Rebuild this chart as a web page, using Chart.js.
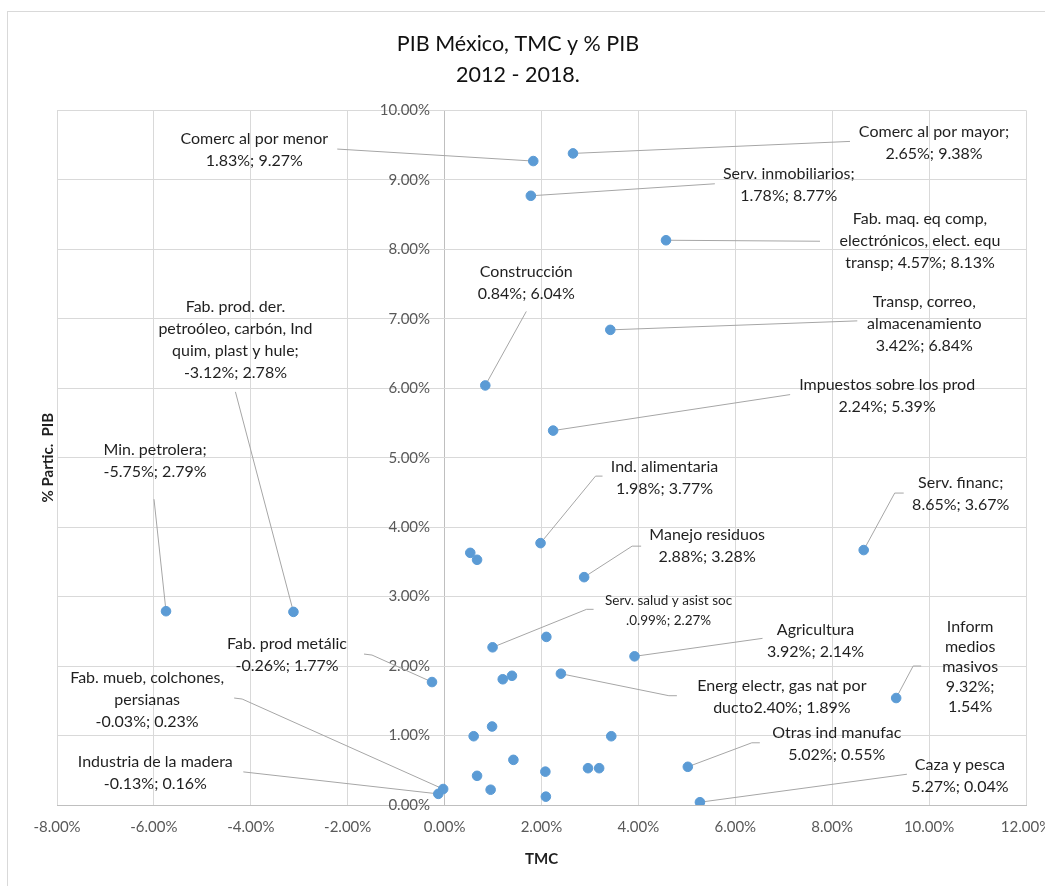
<!DOCTYPE html>
<html lang="es">
<head>
<meta charset="utf-8">
<title>PIB México, TMC y % PIB</title>
<script src="https://cdn.jsdelivr.net/npm/chart.js@4.4.1/dist/chart.umd.min.js"></script>
<style>
  html, body { margin: 0; padding: 0; background: #fff; overflow: hidden; }
  #marco { position: absolute; left: 7px; top: 11px; width: 1100px; height: 1000px; border: 1px solid #d9d9d9; }
  #grafica { position: absolute; left: 0; top: 0; }
</style>
</head>
<body>
<div id="marco"></div>
<canvas id="grafica" width="1070" height="886"></canvas>
<script>
// PIB México 2012-2018: tasa media de crecimiento (TMC) vs participación en el PIB, por sector

// Sectores (los vacíos no llevan etiqueta en la gráfica)
const sectores = [
  'Comerc al por menor', 'Comerc al por mayor', 'Serv. inmobiliarios',
  'Fab. maq. eq comp, electrónicos, elect. equ transp', 'Transp, correo, almacenamiento',
  'Construcción', 'Impuestos sobre los prod', 'Fab. prod. der. petroóleo, carbón, Ind quim, plast y hule',
  'Min. petrolera', 'Ind. alimentaria', 'Serv. financ', 'Manejo residuos',
  'Serv. salud y asist soc', 'Agricultura', 'Fab. prod metálic', 'Energ electr, gas nat por ducto',
  'Inform medios masivos', 'Fab. mueb, colchones, persianas', 'Industria de la madera',
  'Otras ind manufac', 'Caza y pesca',
  '', '', '', '', '', '', '', '', '', '', '', '', '', '', ''
];

// TMC (%)
const tmc = [
  1.83, 2.65, 1.78, 4.57, 3.42, 0.84, 2.24, -3.12, -5.75, 1.98, 8.65, 2.88,
  0.99, 3.92, -0.26, 2.40, 9.32, -0.03, -0.13, 5.02, 5.27,
  0.53, 0.67, 2.10, 1.20, 1.39, 0.60, 0.98, 3.44, 1.42, 0.67, 2.08, 2.96, 3.19, 0.95, 2.09
];

// Participación en el PIB (%)
const pib = [
  9.27, 9.38, 8.77, 8.13, 6.84, 6.04, 5.39, 2.78, 2.79, 3.77, 3.67, 3.28,
  2.27, 2.14, 1.77, 1.89, 1.54, 0.23, 0.16, 0.55, 0.04,
  3.63, 3.53, 2.42, 1.81, 1.86, 0.99, 1.13, 0.99, 0.65, 0.42, 0.48, 0.53, 0.53, 0.22, 0.12
];

// Texto de las etiquetas, renglón por renglón (tal como aparecen)
const etiquetas = [
  ['Comerc al por menor', '1.83%; 9.27%'],
  ['Comerc al por mayor;', '2.65%; 9.38%'],
  ['Serv. inmobiliarios;', '1.78%; 8.77%'],
  ['Fab. maq. eq comp,', 'electrónicos, elect. equ', 'transp; 4.57%; 8.13%'],
  ['Transp, correo,', 'almacenamiento', '3.42%; 6.84%'],
  ['Construcción', '0.84%; 6.04%'],
  ['Impuestos sobre los prod', '2.24%; 5.39%'],
  ['Fab. prod. der.', 'petroóleo, carbón, Ind', 'quim, plast y hule;', '-3.12%; 2.78%'],
  ['Min. petrolera;', '-5.75%; 2.79%'],
  ['Ind. alimentaria', '1.98%; 3.77%'],
  ['Serv. financ;', '8.65%; 3.67%'],
  ['Manejo residuos', '2.88%; 3.28%'],
  ['Serv. salud y asist soc', '.0.99%; 2.27%'],
  ['Agricultura', '3.92%; 2.14%'],
  ['Fab. prod metálic', '-0.26%; 1.77%'],
  ['Energ electr, gas nat por', 'ducto2.40%; 1.89%'],
  ['Inform', 'medios', 'masivos', '9.32%;', '1.54%'],
  ['Fab. mueb, colchones,', 'persianas', '-0.03%; 0.23%'],
  ['Industria de la madera', '-0.13%; 0.16%'],
  ['Otras ind manufac', '5.02%; 0.55%'],
  ['Caza y pesca', '5.27%; 0.04%']
];

// Colocación de cada etiqueta respecto a su punto (px): centro del texto y trazo de la línea guía
const colocacion = [
  { c: [-279, -11], guia: [[-196, -12]] },
  { c: [361, -11], guia: [[277, -12]] },
  { c: [258, -11], guia: [[184, -12]] },
  { c: [254, 1], guia: [[154, 1]] },
  { c: [314, -6], guia: [[247, -9]] },
  { c: [41, -103], guia: [[41, -74]] },
  { c: [334, -35], guia: [[237, -36]] },
  { c: [-58, -272], guia: [[-58, -220]] },
  { c: [-11, -150], guia: [[-12, -112]] },
  { c: [124, -65], guia: [[55, -67], [62, -67]] },
  { c: [97, -56], guia: [[31, -57], [40, -57]] },
  { c: [123, -31], guia: [[48, -31], [57, -31]] },
  { c: [176, -37], guia: [[94, -38], [101, -38]], chica: true },
  { c: [181, -16], guia: [[128, -18]] },
  { c: [-145, -27], guia: [[-60, -27], [-68, -28]] },
  { c: [221, 23], guia: [[108, 22], [116, 22]] },
  { c: [74, -31], guia: [[17, -32], [25, -32]], interlinea: 20 },
  { c: [-296, -89], guia: [[-201, -90], [-209, -91]] },
  { c: [-283, -21], guia: [[-195, -22]] },
  { c: [149, -23], guia: [[64, -24], [72, -24]] },
  { c: [260, -26], guia: [[207, -28]] }
];

const FUENTE = 'Lato, "Open Sans", Arial, sans-serif';

const etiquetasPlugin = {
  id: 'etiquetas',
  beforeDatasetsDraw(chart) {
    const { ctx } = chart;
    const meta = chart.getDatasetMeta(0);
    ctx.save();
    ctx.strokeStyle = '#a6a6a6';
    ctx.lineWidth = 1;
    colocacion.forEach((c, i) => {
      const p = meta.data[i];
      ctx.beginPath();
      ctx.moveTo(p.x, p.y);
      c.guia.forEach(([dx, dy]) => ctx.lineTo(p.x + dx, p.y + dy));
      ctx.stroke();
    });
    ctx.restore();
  },
  afterDatasetsDraw(chart) {
    const { ctx } = chart;
    const meta = chart.getDatasetMeta(0);
    ctx.save();
    ctx.fillStyle = '#1f1f1f';
    ctx.textAlign = 'center';
    ctx.textBaseline = 'middle';
    etiquetas.forEach((lineas, i) => {
      const c = colocacion[i];
      const p = meta.data[i];
      const alto = c.interlinea || (c.chica ? 20 : 22);
      ctx.font = (c.chica ? '13.5px ' : '16px ') + FUENTE;
      const y0 = p.y + c.c[1] - (lineas.length - 1) * alto / 2;
      lineas.forEach((t, k) => ctx.fillText(t, p.x + c.c[0], y0 + k * alto));
    });
    ctx.restore();
  }
};

const pct = v => Number(v).toFixed(2) + '%';

new Chart(document.getElementById('grafica'), {
  type: 'scatter',
  data: {
    datasets: [{
      label: '% PIB',
      data: tmc.map((x, i) => ({ x, y: pib[i], sector: sectores[i] })),
      backgroundColor: '#5b9bd5',
      borderColor: '#5b9bd5',
      pointRadius: 4.8,
      pointHoverRadius: 4.8
    }]
  },
  options: {
    responsive: false,
    animation: false,
    layout: { padding: { left: 10, right: 44, top: 12, bottom: 4 } },
    plugins: {
      legend: { display: false },
      tooltip: { enabled: false },
      title: {
        display: true,
        text: ['PIB México, TMC y % PIB', '2012 - 2018.'],
        color: '#111',
        font: { family: FUENTE, size: 21.5, weight: 'normal', lineHeight: 1.45 },
        padding: { top: 16, bottom: 20 }
      }
    },
    scales: {
      x: {
        type: 'linear',
        min: -8,
        max: 12,
        ticks: { stepSize: 2, callback: pct, color: '#595959', font: { family: FUENTE, size: 15 }, padding: 13, maxRotation: 0 },
        grid: { color: c => (c.tick && c.tick.value === 0 ? '#bfbfbf' : '#d9d9d9'), drawTicks: false },
        border: { color: '#bfbfbf' },
        title: { display: true, text: 'TMC', color: '#1f1f1f', font: { family: FUENTE, size: 15, weight: 'bold' }, padding: { top: 1, bottom: 14 } }
      },
      y: {
        type: 'linear',
        min: 0,
        max: 10,
        position: { x: -0.3 },
        ticks: { stepSize: 1, callback: pct, color: '#595959', font: { family: FUENTE, size: 15 } },
        grid: { color: '#d9d9d9', drawTicks: false },
        border: { display: false }
      },
      yTitulo: {
        type: 'linear',
        position: 'left',
        min: 0,
        max: 10,
        ticks: { display: false },
        grid: { display: false, drawTicks: false },
        border: { display: false },
        title: { display: true, text: '% Partic.  PIB', color: '#1f1f1f', font: { family: FUENTE, size: 15, weight: 'bold' }, padding: { top: 29, bottom: 0 } }
      }
    }
  },
  plugins: [etiquetasPlugin]
});
</script>
</body>
</html>
